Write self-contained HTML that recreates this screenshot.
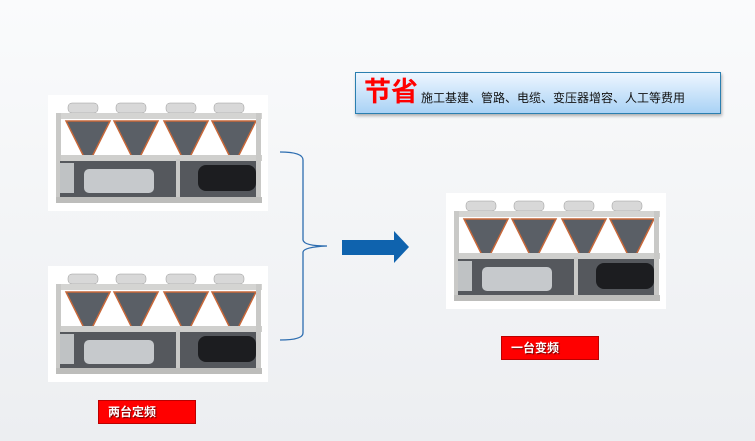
<!DOCTYPE html>
<html><head><meta charset="utf-8"><style>
html,body{margin:0;padding:0}
body{width:755px;height:441px;position:relative;overflow:hidden;background:linear-gradient(#fafbfc,#eceef1);font-family:"Liberation Sans","Noto Sans CJK SC",sans-serif}
.lbl{position:absolute;background:#f00;border:1px solid #b00;color:#fff;font-size:12px;font-weight:bold;line-height:22px;box-sizing:border-box;height:24px;text-shadow:1px 1px 1px #600}
.box{position:absolute;left:355px;top:72px;width:366px;height:42px;box-sizing:border-box;border:1px solid #2a7fb0;background:linear-gradient(#eef6ff,#a9d2f5);box-shadow:1px 2px 3px rgba(0,0,0,.3)}
</style></head><body>
<svg width="755" height="441" style="position:absolute;left:0;top:0">
<defs>
<g id="ch">
<rect x="0" y="0" width="220" height="116" fill="#fff"/>
<g fill="#d8d8d8" stroke="#999" stroke-width=".5">
<rect x="20" y="8" width="30" height="10" rx="4"/><rect x="68" y="8" width="30" height="10" rx="4"/><rect x="118" y="8" width="30" height="10" rx="4"/><rect x="166" y="8" width="30" height="10" rx="4"/></g>
<rect x="8" y="18" width="206" height="6" fill="#d4d4d2"/>
<g fill="#5a5f66" stroke="#c8683a" stroke-width="1.5">
<polygon points="18,26 62,26 44,62 36,62"/><polygon points="66,26 110,26 92,62 84,62"/><polygon points="116,26 160,26 142,62 134,62"/><polygon points="164,26 208,26 190,62 182,62"/></g>
<rect x="10" y="60" width="204" height="6" fill="#cfcfcd"/>
<rect x="8" y="18" width="5" height="90" fill="#c9c9c7"/><rect x="208" y="18" width="5" height="90" fill="#c9c9c7"/>
<rect x="12" y="66" width="196" height="38" fill="#55585d"/>
<rect x="12" y="68" width="14" height="30" fill="#bfc2c4"/>
<rect x="36" y="74" width="70" height="24" rx="5" fill="#c6c9cc"/>
<rect x="128" y="64" width="4" height="40" fill="#c9c9c7"/>
<rect x="150" y="70" width="58" height="26" rx="8" fill="#1c1d20"/>
<rect x="8" y="102" width="206" height="6" fill="#bdbdbb"/>
</g>
</defs>
<use href="#ch" x="48" y="95"/>
<use href="#ch" x="48" y="266"/>
<use href="#ch" x="446" y="193"/>
<path d="M280,152 Q303,152 303,160 L303,240 Q304,246 327,246 Q304,247 303,252 L303,333 Q303,340 280,340" fill="none" stroke="#2d6db0" stroke-width="1.3"/>
<polygon points="342,240 394,240 394,231 409,247 394,263 394,255 342,255" fill="#0f63ae"/>
</svg>
<div class="box"><span style="position:absolute;left:8px;top:2px;font-size:27px;font-weight:bold;color:#f00;line-height:34px">节省</span><span style="position:absolute;left:65px;top:17px;font-size:12px;color:#111;line-height:16px">施工基建、管路、电缆、变压器增容、人工等费用</span></div>
<div class="lbl" style="left:98px;top:400px;width:98px;padding-left:9px">两台定频</div>
<div class="lbl" style="left:501px;top:336px;width:98px;padding-left:9px">一台变频</div>
</body></html>
